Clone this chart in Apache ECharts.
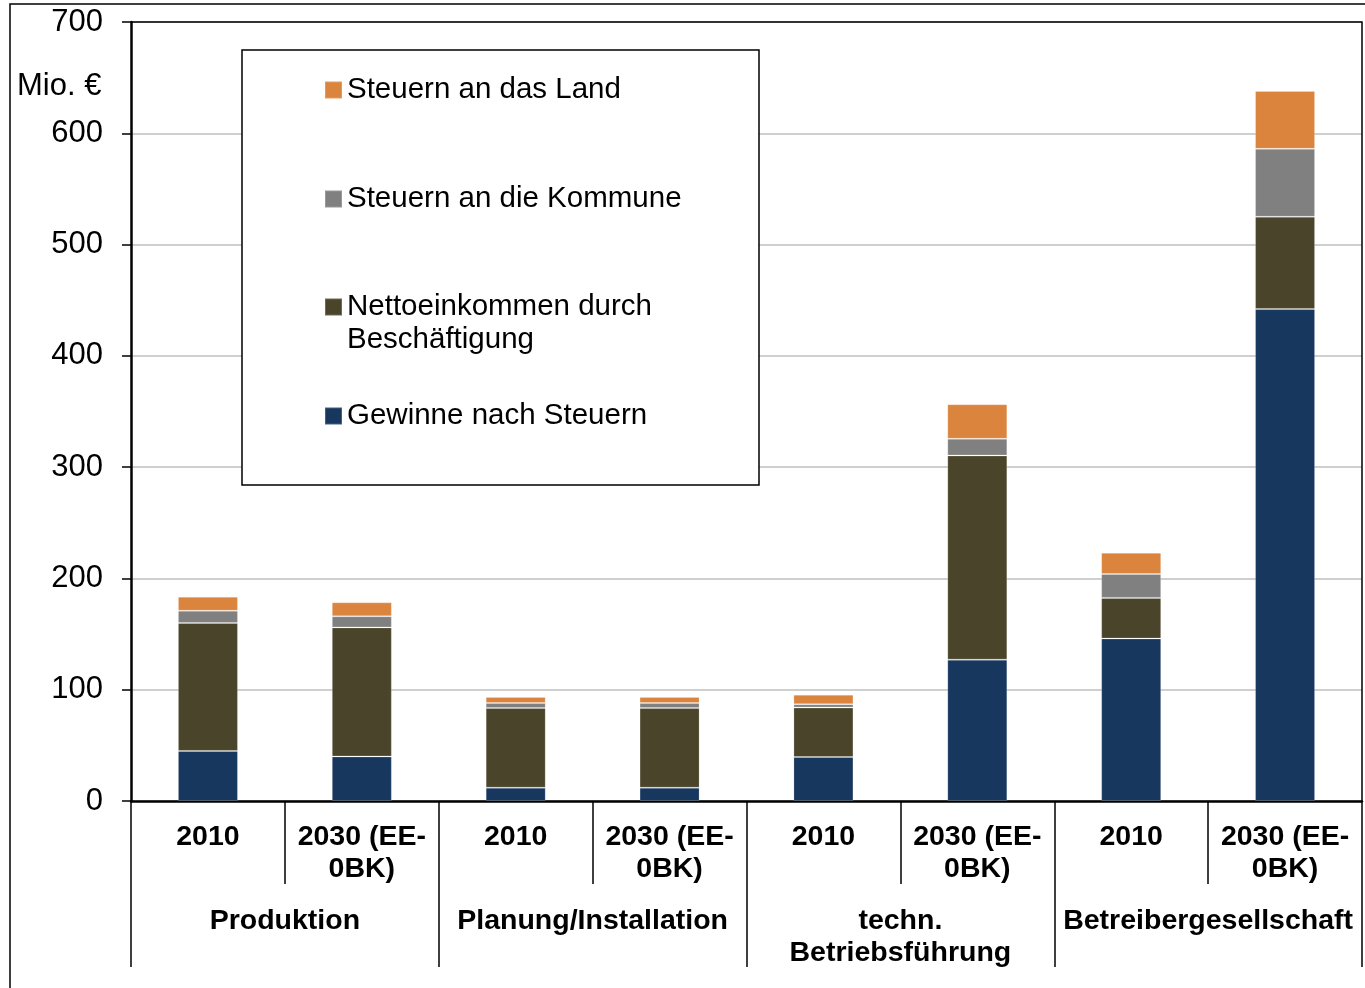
<!DOCTYPE html>
<html>
<head>
<meta charset="utf-8">
<script src="https://cdn.jsdelivr.net/npm/echarts@6/dist/echarts.min.js"></script>
<style>
  html, body { margin: 0; padding: 0; background: #fff; }
  #chart { width: 1365px; height: 988px; }
</style>
</head>
<body>
<div id="chart"></div>
<script>
// Einkommen und Steuern nach Wertschöpfungsstufe

const years = ['2010', '2030 (EE-\n0BK)', '2010', '2030 (EE-\n0BK)', '2010', '2030 (EE-\n0BK)', '2010', '2030 (EE-\n0BK)'];
const groups = ['Produktion', 'Planung/Installation', 'techn.\nBetriebsführung', 'Betreibergesellschaft'];
const yTicks = [0, 100, 200, 300, 400, 500, 600, 700];

const gewinne = [45, 40, 12, 12, 39.5, 127, 146, 442];
const netto = [115, 116, 71.5, 71.5, 44.5, 183.5, 36.5, 83];
const kommune = [11, 10, 4.5, 4.5, 3, 15, 21.5, 61];
const land = [12.5, 12.5, 5.5, 5.5, 8.5, 31, 19, 52];

const chart = echarts.init(document.getElementById('chart'));

const font = 'Liberation Sans, Arial, sans-serif';

function bar(name, data, color) {
    return {
        name: name,
        type: 'bar',
        stack: 'total',
        data: data,
        barWidth: 60,
        itemStyle: { color: color, borderColor: 'rgba(255,255,255,0.2)', borderWidth: 1 },
        emphasis: { disabled: true }
    };
}

function legendItem(name, top) {
    return {
        data: [name],
        left: 324,
        top: top,
        orient: 'vertical',
        icon: 'rect',
        itemWidth: 17,
        itemHeight: 17,
        padding: 0,
        z: 6,
        selectedMode: false,
        textStyle: { fontFamily: font, fontSize: 29.5, color: '#000' }
    };
}

const option = {
    animation: false,
    backgroundColor: '#fff',
    grid: { left: 131, right: 3, top: 22, bottom: 187 },
    legend: [
        legendItem('Steuern an das Land', 75),
        legendItem('Steuern an die Kommune', 184),
        Object.assign(legendItem('Nettoeinkommen durch Beschäftigung', 292), {
            formatter: function () { return 'Nettoeinkommen durch'; }
        }),
        legendItem('Gewinne nach Steuern', 401)
    ],
    xAxis: [
        {
            type: 'category',
            data: years,
            position: 'bottom',
            axisLine: { lineStyle: { color: '#000', width: 2.5 } },
            axisTick: { show: true, interval: 0, length: 83, lineStyle: { color: '#000', width: 1.5 } },
            axisLabel: {
                interval: 0, margin: 20,
                fontFamily: font, fontSize: 28.5, fontWeight: 'bold', color: '#000', lineHeight: 32
            }
        },
        {
            type: 'category',
            data: groups,
            position: 'bottom',
            axisLine: { show: false },
            axisTick: { show: true, interval: 0, length: 166, lineStyle: { color: '#000', width: 1.5 } },
            axisLabel: {
                interval: 0, margin: 104,
                fontFamily: font, fontSize: 28.5, fontWeight: 'bold', color: '#000', lineHeight: 32
            }
        }
    ],
    yAxis: {
        type: 'value',
        min: yTicks[0],
        max: yTicks[yTicks.length - 1],
        interval: 100,
        axisLine: { show: true, lineStyle: { color: '#000', width: 2.5 } },
        axisTick: { show: true, length: 9, lineStyle: { color: '#000', width: 1.5 } },
        axisLabel: { margin: 28, fontFamily: font, fontSize: 31, color: '#000' },
        splitLine: { lineStyle: { color: '#cfcfcf', width: 2 } }
    },
    graphic: [
        {
            type: 'rect',
            shape: { x: 10, y: 4, width: 1360, height: 1000 },
            style: { fill: 'none', stroke: '#000', lineWidth: 1.5 },
            silent: true
        },
        {
            type: 'polyline',
            shape: { points: [[131, 22], [1362, 22], [1362, 801]] },
            style: { fill: 'none', stroke: '#000', lineWidth: 1.5 },
            z: 10,
            silent: true
        },
        {
            type: 'rect',
            shape: { x: 242, y: 50, width: 517, height: 435 },
            style: { fill: '#fff', stroke: '#000', lineWidth: 1.5 },
            z: 3,
            silent: true
        },
        {
            type: 'text',
            left: 347,
            top: 325,
            style: { text: 'Beschäftigung', fontFamily: font, fontSize: 29.5, fill: '#000' },
            z: 10
        },
        {
            type: 'text',
            left: 17,
            top: 71,
            style: { text: 'Mio. €', fontFamily: font, fontSize: 31, fill: '#000' },
            z: 10
        }
    ],
    series: [
        bar('Gewinne nach Steuern', gewinne, '#17375E'),
        bar('Nettoeinkommen durch Beschäftigung', netto, '#4A452A'),
        bar('Steuern an die Kommune', kommune, '#808080'),
        bar('Steuern an das Land', land, '#DB843D')
    ]
};

option && chart.setOption(option);
</script>
</body>
</html>
